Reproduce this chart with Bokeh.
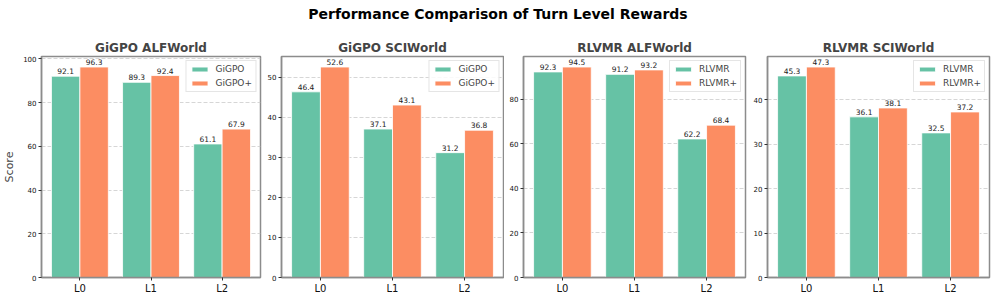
import numpy as np
from bokeh.plotting import figure
from bokeh.layouts import column, row
from bokeh.models import Range1d, FixedTicker, ColumnDataSource, Legend, LegendItem
from bokeh.core.properties import value
from bokeh.embed import file_html
from bokeh.resources import INLINE

# ---- data ----
levels = ["L0", "L1", "L2"]
panel_titles = ["GiGPO ALFWorld", "GiGPO SCIWorld", "RLVMR ALFWorld", "RLVMR SCIWorld"]
base_names = ["GiGPO", "GiGPO", "RLVMR", "RLVMR"]
plus_names = ["GiGPO+", "GiGPO+", "RLVMR+", "RLVMR+"]
gigpo_alf = [92.1, 89.3, 61.1]
gigpo_alf_plus = [96.3, 92.4, 67.9]
gigpo_sci = [46.4, 37.1, 31.2]
gigpo_sci_plus = [52.6, 43.1, 36.8]
rlvmr_alf = [92.3, 91.2, 62.2]
rlvmr_alf_plus = [94.5, 93.2, 68.4]
rlvmr_sci = [45.3, 36.1, 32.5]
rlvmr_sci_plus = [47.3, 38.1, 37.2]
y_ticks = [[0, 20, 40, 60, 80, 100], [0, 10, 20, 30, 40, 50], [0, 20, 40, 60, 80], [0, 10, 20, 30, 40]]

base_series = [gigpo_alf, gigpo_sci, rlvmr_alf, rlvmr_sci]
plus_series = [gigpo_alf_plus, gigpo_sci_plus, rlvmr_alf_plus, rlvmr_sci_plus]

GREEN = "#66c2a5"
ORANGE = "#fc8d62"
FONT = value("DejaVu Sans")
SPINE = "#8c8c8c"

# layout geometry
title_h = 34
fig_h = 264
widths = [262, 242, 243, 248]
left_borders = [38, 19, 19, 20]
right_borders = [2, 1, 2, 6]

title_fig = figure(width=sum(widths), height=title_h, x_range=Range1d(0, 1), y_range=Range1d(0, 1),
                   output_backend="svg", toolbar_location=None,
                   x_axis_location=None, y_axis_location=None,
                   min_border=0)
title_fig.outline_line_color = None
title_fig.grid.visible = False
title_fig.text(x=[0.5], y=[1 - 13 / title_h], text=["Performance Comparison of Turn Level Rewards"],
               text_align="center", text_baseline="middle", text_font=FONT,
               text_font_style="bold", text_font_size="14px", text_color="#000000")

figs = []
bw = 0.4
for i in range(4):
    base = np.array(base_series[i])
    plus = np.array(plus_series[i])
    ymax = max(max(base), max(plus)) * 1.05
    x = np.arange(len(levels))
    p = figure(width=widths[i], height=fig_h,
               x_range=Range1d(-0.54, len(levels) - 1 + 0.54),
               y_range=Range1d(0, ymax),
               output_backend="svg", toolbar_location=None,
               min_border_left=left_borders[i], min_border_right=right_borders[i],
               min_border_top=22, min_border_bottom=21)
    p.title.text = panel_titles[i]
    p.title.align = "center"
    p.title.text_font = "DejaVu Sans"
    p.title.text_font_style = "bold"
    p.title.text_font_size = "12px"
    p.title.standoff = 3

    src_b = ColumnDataSource(dict(x=x - bw / 2, top=base, label=[f"{v:.1f}" for v in base]))
    src_p = ColumnDataSource(dict(x=x + bw / 2, top=plus, label=[f"{v:.1f}" for v in plus]))
    rb = p.vbar(x="x", top="top", width=bw, source=src_b, fill_color=GREEN,
                line_color="white", line_width=0.8)
    rp = p.vbar(x="x", top="top", width=bw, source=src_p, fill_color=ORANGE,
                line_color="white", line_width=0.8)
    for src in (src_b, src_p):
        p.text(x="x", y="top", text="label", source=src, text_align="center",
               text_baseline="bottom", y_offset=-2, text_font=FONT,
               text_font_size="7.5px", text_color="#222222")

    legend = Legend(items=[LegendItem(label=base_names[i], renderers=[rb]),
                           LegendItem(label=plus_names[i], renderers=[rp])],
                    location="top_right")
    legend.margin = 4
    legend.padding = 3
    legend.spacing = 4
    legend.label_height = 10
    legend.glyph_height = 6
    legend.glyph_width = 20
    legend.label_standoff = 6
    legend.label_text_font = "DejaVu Sans"
    legend.label_text_font_size = "9px"
    legend.border_line_color = "#cccccc"
    legend.background_fill_alpha = 0.85
    p.add_layout(legend)

    p.xaxis.ticker = FixedTicker(ticks=list(x))
    p.xaxis.major_label_overrides = {int(k): levels[k] for k in range(len(levels))}
    p.yaxis.ticker = FixedTicker(ticks=y_ticks[i])
    for ax in (p.xaxis, p.yaxis):
        ax.axis_line_color = SPINE
        ax.axis_line_width = 1.5
        ax.major_tick_in = 0
        ax.major_tick_out = 3
        ax.minor_tick_line_color = None
        ax.major_tick_line_color = "#333333"
        ax.major_label_text_font = "DejaVu Sans"
        ax.major_label_text_color = "#111111"
        ax.major_label_standoff = 2
    p.xaxis.major_label_text_font_size = "10px"
    p.yaxis.major_label_text_font_size = "7px"
    if i == 0:
        p.yaxis.axis_label = "Score"
        p.yaxis.axis_label_text_font = "DejaVu Sans"
        p.yaxis.axis_label_text_font_style = "normal"
        p.yaxis.axis_label_text_font_size = "11px"
        p.yaxis.axis_label_standoff = 4
    p.outline_line_color = SPINE
    p.outline_line_width = 1.5
    p.xgrid.visible = False
    p.ygrid.grid_line_color = "#cccccc"
    p.ygrid.grid_line_dash = "4 2"
    p.ygrid.grid_line_width = 0.8
    figs.append(p)

layout = column(title_fig, row(*figs, spacing=0), spacing=0)
open("out.html", "w").write(file_html(layout, INLINE))
